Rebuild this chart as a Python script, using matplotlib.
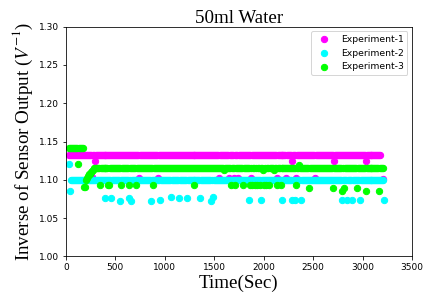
import numpy as np
import matplotlib
matplotlib.use("Agg")
from matplotlib import pyplot as plt

# sampling (seconds)
step = 10

# Experiment-1: baseline level and deviating points
exp1_start, exp1_end, exp1_base = 30, 3180, 1.132
exp1_dip_t = [260, 290, 745, 930, 1550, 1650, 1700, 1740, 1870, 2130, 2235,
              2290, 2335, 2525, 2715, 3035, 3210]
exp1_dip_v = [1.104, 1.125, 1.103, 1.103, 1.103, 1.103, 1.103, 1.103, 1.103,
              1.103, 1.103, 1.125, 1.103, 1.103, 1.125, 1.125, 1.101]

# Experiment-2
exp2_start, exp2_end, exp2_base = 30, 3220, 1.100
exp2_dip_t = [30, 40, 395, 465, 550, 645, 665, 865, 955, 1065, 1145, 1225,
              1365, 1475, 1490, 1850, 1970, 2180, 2290, 2320, 2385, 2790,
              2845, 2890, 2970, 3220]
exp2_dip_v = [1.121, 1.085, 1.076, 1.076, 1.073, 1.076, 1.073, 1.073, 1.074,
              1.077, 1.076, 1.076, 1.076, 1.073, 1.077, 1.074, 1.074, 1.074,
              1.074, 1.074, 1.074, 1.074, 1.074, 1.074, 1.074, 1.074]

# Experiment-3
exp3_start, exp3_end, exp3_base = 30, 3215, 1.116
exp3_dip_t = [30, 40, 50, 60, 70, 80, 90, 100, 110, 120, 130, 140, 150, 160,
              170, 180, 190, 200, 210, 220, 230, 240, 250, 260, 270,
              340, 430, 445, 560, 645, 710, 880, 1295, 1600, 1675, 1715,
              1795, 1860, 1885, 1910, 1935, 1960, 1990, 2000, 2025, 2050,
              2100, 2135, 2170, 2330, 2335, 2360, 2460, 2705, 2790, 2810,
              2945, 3035, 3170]
exp3_dip_v = [1.141, 1.141, 1.141, 1.141, 1.141, 1.141, 1.141, 1.141, 1.141,
              1.120, 1.141, 1.141, 1.141, 1.141, 1.141, 1.090, 1.090, 1.100,
              1.102, 1.105, 1.107, 1.107, 1.110, 1.112, 1.113,
              1.093, 1.093, 1.093, 1.093, 1.093, 1.093, 1.093, 1.093, 1.113,
              1.093, 1.093, 1.093, 1.093, 1.093, 1.093, 1.093, 1.093, 1.113,
              1.093, 1.093, 1.093, 1.113, 1.093, 1.093, 1.119, 1.093, 1.119,
              1.089, 1.089, 1.085, 1.089, 1.089, 1.085, 1.085]

labels = ["Experiment-1", "Experiment-2", "Experiment-3"]
colors = ["#ff00ff", "#00ffff", "#00ff00"]


def build(t0, t1, base, dip_t, dip_v):
    end = max(t1, max(dip_t))
    t = np.arange(t0, end + 1, step)
    v = np.full(t.shape, np.nan)
    v[t <= t1] = base
    for dt, dv in zip(dip_t, dip_v):
        v[np.argmin(np.abs(t - dt))] = dv
    keep = ~np.isnan(v)
    return t[keep], v[keep]


series = [
    build(exp1_start, exp1_end, exp1_base, exp1_dip_t, exp1_dip_v),
    build(exp2_start, exp2_end, exp2_base, exp2_dip_t, exp2_dip_v),
    build(exp3_start, exp3_end, exp3_base, exp3_dip_t, exp3_dip_v),
]

plt.rcParams['mathtext.fontset'] = 'stix'
serif = ['Liberation Serif', 'DejaVu Serif']

fig = plt.figure(figsize=(431 / 72, 303 / 72), dpi=72)
ax = fig.add_axes([0.153, 0.1535, 0.803, 0.759])

for (t, v), lab, col in zip(series, labels, colors):
    ax.scatter(t, v, s=40, color=col, label=lab)

ax.set_xlim(0, 3500)
ax.set_ylim(1.00, 1.30)
ax.set_xticks(np.arange(0, 3501, 500))
ax.set_yticks(np.arange(1.00, 1.301, 0.05))
ax.yaxis.set_major_formatter(matplotlib.ticker.FormatStrFormatter('%.2f'))
ax.tick_params(labelsize=9)

ax.set_title("50ml Water", fontsize=19, family=serif, pad=4)
ax.set_xlabel("Time(Sec)", fontsize=19, family=serif, labelpad=2)
ax.set_ylabel("Inverse of Sensor Output ($V^{-1}$)", fontsize=19, family=serif, labelpad=4)
ax.legend(loc='upper right', fontsize=9.3)

fig.savefig("out.png", dpi=72)
